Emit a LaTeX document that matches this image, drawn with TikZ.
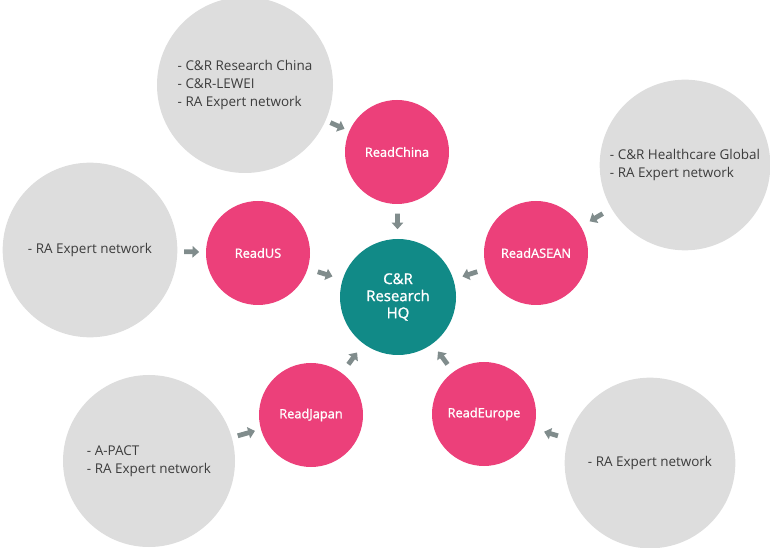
\documentclass[tikz,border=0pt]{standalone}
\usepackage{fontspec}
\setmainfont{Open Sans}
\newfontfamily\gruesa[FakeBold=1.3]{Open Sans}
\usepackage{xcolor}
\usepackage{tikz}
\usetikzlibrary{arrows.meta}
\definecolor{rosa}{RGB}{236,64,122}
\definecolor{verde}{RGB}{17,138,135}
\definecolor{gris}{RGB}{221,221,221}
\definecolor{flecha}{RGB}{128,140,140}
\definecolor{texto}{RGB}{60,60,60}
\tikzset{
  red/.style={circle,fill=gris,draw=none,inner sep=0pt,minimum size=#1,align=left,
    text=texto,font=\fontsize{10.1}{13.2}\selectfont},
  sede/.style={circle,fill=rosa,draw=none,inner sep=0pt,minimum size=78pt,
    text=white,font=\gruesa\fontsize{9.6}{13}\selectfont},
  hq/.style={circle,fill=verde,draw=none,inner sep=0pt,minimum size=87pt,align=center,
    text=white,font=\gruesa\fontsize{11.2}{12.8}\selectfont},
  flujo/.style={-{Triangle[length=5pt,width=8.5pt]},line width=3.6pt,draw=flecha,
    shorten <=#1,shorten >=#1}
}
\begin{document}
\begin{tikzpicture}[x=0.75pt,y=-0.75pt]
\useasboundingbox (0,0) rectangle (770,548);
% redes de apoyo
\node[red=132pt] (rchina) at (245,85) {- C\&R Research China\\- C\&R-LEWEI\\- RA Expert network};
\node[red=128pt] (rasean) at (685,165) {- C\&R Healthcare Global\\- RA Expert network};
\node[red=131pt] (rus) at (90,250) {- RA Expert network};
\node[red=129pt] (rjapan) at (149,461) {- A-PACT\\- RA Expert network};
\node[red=128pt] (reurope) at (650,463) {- RA Expert network};
% oficinas
\node[sede] (china) at (397,152) {ReadChina};
\node[sede] (asean) at (536,253) {ReadASEAN};
\node[sede] (us) at (258,253) {ReadUS};
\node[sede] (japan) at (311,415) {ReadJapan};
\node[sede] (europe) at (484,414) {ReadEurope};
\node[hq] (centro) at (398,297) {C\&R\\Research\\HQ};
% flechas
\draw[flujo=3.8pt] (rchina) -- (china);
\draw[flujo=7.5pt] (rasean) -- (asean);
\draw[flujo=4.9pt] (rus) -- (us);
\draw[flujo=4.5pt] (rjapan) -- (japan);
\draw[flujo=7.8pt] (reurope) -- (europe);
\draw[flujo=7.1pt] (china) -- (centro);
\draw[flujo=7pt] (asean) -- (centro);
\draw[flujo=7.8pt] (us) -- (centro);
\draw[flujo=8pt] (japan) -- (centro);
\draw[flujo=7pt] (europe) -- (centro);
\end{tikzpicture}
\end{document}
